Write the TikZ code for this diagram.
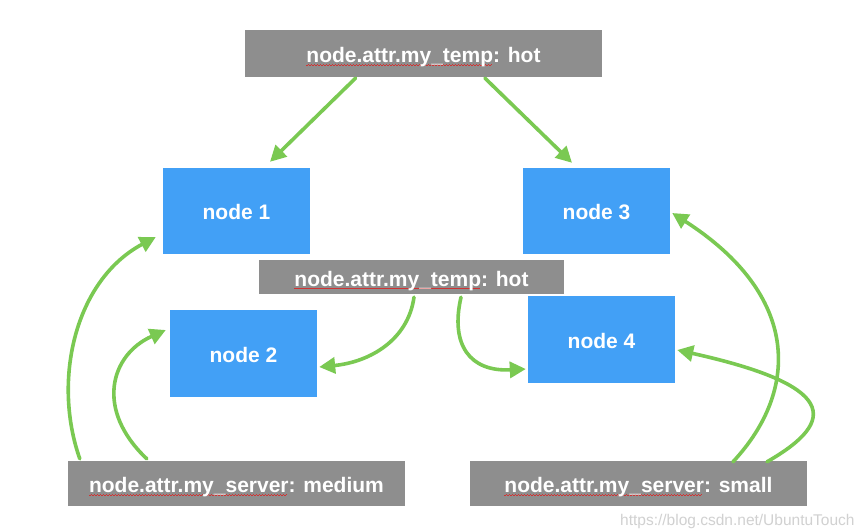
\documentclass[tikz,border=0pt]{standalone}
\usepackage{fontspec}
\setmainfont{Liberation Sans}
\usetikzlibrary{arrows.meta,calc}
\definecolor{boxblue}{RGB}{66,160,246}
\definecolor{boxgray}{RGB}{142,142,142}
\definecolor{arrgreen}{RGB}{122,201,82}
\definecolor{spellred}{RGB}{210,50,50}
\newcommand\spellwave[1]{\setbox0\hbox{#1}\rlap{\textcolor{spellred}{\raisebox{-3pt}{\hbox to \wd0{\leaders\hbox to 3pt{\rule[0pt]{1.5pt}{0.8pt}\rule[0.7pt]{1.5pt}{0.8pt}}\hfill}}}}\box0}
\begin{document}
\begin{tikzpicture}[x=1pt,y=-1pt,
  lbl/.style={fill=boxgray,text=white,font=\fontsize{21}{25}\selectfont\bfseries,
    inner sep=0pt,text height=18pt,text depth=0pt,minimum height=#1},
  lbl/.default=45pt,
  nbox/.style={fill=boxblue,text=white,font=\fontsize{21}{25}\selectfont\bfseries,
    inner sep=0pt,text height=18pt,text depth=0pt,minimum width=147pt,minimum height=86pt},
  link/.style={draw=arrgreen,line width=3.6pt,line cap=round,
    -{Triangle[length=16pt,width=16pt]}}]
\useasboundingbox (0,0) rectangle (864,529);
\fill[white] (0,0) rectangle (864,529);
% nodes
\node[lbl=47pt,minimum width=357pt] (top) at (423.5,53.5) {\spellwave{node.attr.my\_temp}: hot};
\node[nbox] (n1) at (236.5,211) {node 1};
\node[nbox] (n3) at (596.5,211) {node 3};
\node[lbl=34pt,minimum width=305pt] (mid) at (411.5,277) {\spellwave{node.attr.my\_temp}: hot};
\node[nbox,minimum height=87pt] (n2) at (243.5,353.5) {node 2};
\node[nbox,minimum height=87pt] (n4) at (601.5,339.5) {node 4};
\node[lbl,minimum width=337pt] (bl) at (236.5,483.5) {\spellwave{node.attr.my\_server}: medium};
\node[lbl,minimum width=337pt] (br) at (638.5,483.5) {\spellwave{node.attr.my\_server}: small};
\node[anchor=base west,text=black!18,font=\fontsize{15.5}{18}\selectfont,inner sep=0pt] (wm) at (620,525) {https://blog.csdn.net/UbuntuTouch};
% connectors
\draw[link] ($(top.south)+(-68,1)$) -- ($(n1.north)+(33.5,-6)$);
\draw[link] ($(top.south)+(61.5,1)$) -- ($(n3.north)+(-24.5,-5)$);
\draw[link] ($(mid.south)+(2.5,3)$) .. controls (408,340) and (370,362) .. ($(n2.east)+(2,13.5)$);
\draw[link] ($(mid.south)+(49.5,3)$) .. controls (450,345) and (470,372) .. ($(n4.west)+(-2,29.5)$);
\draw[link] ($(bl.north west)+(12,-2)$) .. controls (52,380) and (75,280) .. ($(n1.west)+(-7,26)$);
\draw[link] ($(bl.north west)+(79,-2)$) .. controls (95,410) and (110,355) .. ($(n2.west)+(-4,-23.5)$);
\draw[link] ($(br.north)+(94.5,1)$) .. controls (800,390) and (800,295) .. ($(n3.east)+(2,2)$);
\draw[link] ($(br.north)+(128.5,1)$) .. controls (840,420) and (835,385) .. ($(n4.east)+(2,10.5)$);
\end{tikzpicture}
\end{document}
